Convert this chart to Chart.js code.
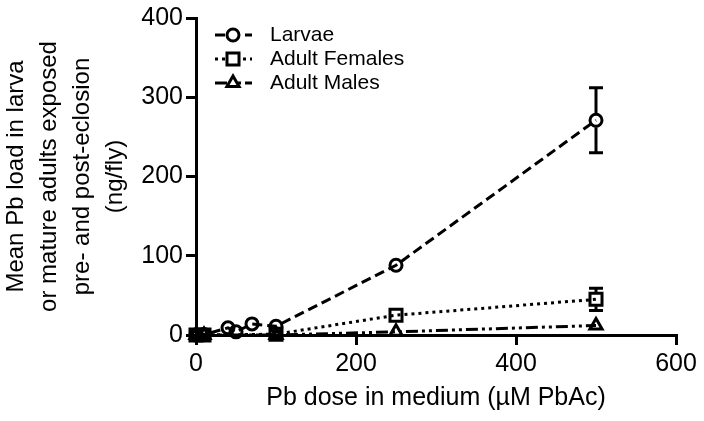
<!DOCTYPE html>
<html>
<head>
<meta charset="utf-8">
<script src="https://cdn.jsdelivr.net/npm/chart.js@4.4.1/dist/chart.umd.min.js"></script>
<style>
  html, body { margin: 0; padding: 0; background: #fff; }
  #wrap { width: 704px; height: 421px; }
</style>
</head>
<body>
<div id="wrap"><canvas id="grafica" width="704" height="421"></canvas></div>
<script>
// Datos
const dosisLarvas = [0, 10, 40, 50, 70, 100, 250, 500];
const cargaLarvas = [0, 0.5, 9, 4, 14, 11, 88, 271];
const errorLarvas = [0, 0, 1, 1, 2, 1.5, 5, 41];

const dosisAdultos = [0, 10, 100, 250, 500];
const cargaHembras = [0, 0, 1, 25, 45];
const errorHembras = [0, 0, 1, 3, 14];
const cargaMachos = [0, 0, 0, 4, 12];
const errorMachos = [0, 0, 0, 1, 2];

const etiquetasSeries = ["Larvae", "Adult Females", "Adult Males"];
const ticksX = [0, 200, 400, 600];
const ticksY = [0, 100, 200, 300, 400];

const tituloX = "Pb dose in medium (\u00b5M PbAc)";
const tituloY = ["Mean Pb load in larva", "or mature adults exposed", "pre- and post-eclosion", "(ng/fly)"];

const fuente = "'Liberation Sans', Arial, Helvetica, sans-serif";

const puntos = (xs, ys) => xs.map((x, i) => ({ x, y: ys[i] }));

const series = [
    { label: etiquetasSeries[0], data: puntos(dosisLarvas, cargaLarvas), err: errorLarvas, pointStyle: "circle", radio: 6, borderDash: [10, 5] },
    { label: etiquetasSeries[1], data: puntos(dosisAdultos, cargaHembras), err: errorHembras, pointStyle: "rect", radio: 8.5, borderDash: [3, 4] },
    { label: etiquetasSeries[2], data: puntos(dosisAdultos, cargaMachos), err: errorMachos, pointStyle: "triangle", radio: 7, borderDash: [12, 4, 3, 4, 3, 4] }
];

// Barras de error
const barrasError = {
    id: "barrasError",
    afterDatasetsDraw(chart) {
        const { ctx } = chart;
        const y = chart.scales.y;
        chart.data.datasets.forEach((ds, i) => {
            const meta = chart.getDatasetMeta(i);
            const r = ds.pointStyle === "rect" ? ds.pointRadius * 0.71 + 1 : ds.pointRadius + 1;
            ctx.save();
            ctx.strokeStyle = "#000";
            ctx.lineWidth = 3;
            meta.data.forEach((p, j) => {
                const e = ds.err[j];
                const v = ds.data[j].y;
                const arriba = y.getPixelForValue(v + e);
                const abajo = y.getPixelForValue(v - e);
                if (p.y - arriba <= r) return;
                ctx.beginPath();
                ctx.moveTo(p.x, arriba); ctx.lineTo(p.x, p.y - r);
                ctx.moveTo(p.x, p.y + r); ctx.lineTo(p.x, abajo);
                ctx.moveTo(p.x - 7, arriba); ctx.lineTo(p.x + 7, arriba);
                ctx.moveTo(p.x - 7, abajo); ctx.lineTo(p.x + 7, abajo);
                ctx.stroke();
            });
            ctx.restore();
        });
    }
};

// Leyenda con linea y marcador
const leyenda = {
    id: "leyenda",
    afterDraw(chart) {
        const { ctx } = chart;
        chart.data.datasets.forEach((ds, i) => {
            const fila = 35 + i * 24;
            ctx.save();
            ctx.strokeStyle = "#000";
            ctx.lineWidth = 3;
            ctx.setLineDash(ds.borderDash);
            ctx.beginPath();
            ctx.moveTo(215, fila);
            ctx.lineTo(252, fila);
            ctx.stroke();
            ctx.setLineDash([]);
            ctx.fillStyle = "#fff";
            Chart.helpers.drawPoint(ctx, { pointStyle: ds.pointStyle, radius: ds.pointRadius, borderWidth: 3, rotation: 0 }, 233, fila);
            ctx.fillStyle = "#000";
            ctx.font = "21px " + fuente;
            ctx.textBaseline = "middle";
            ctx.fillText(ds.label, 270, fila);
            ctx.restore();
        });
    }
};

const ctx = document.getElementById("grafica").getContext("2d");

new Chart(ctx, {
    type: "line",
    data: {
        datasets: series.map(s => ({
            label: s.label,
            data: s.data,
            err: s.err,
            borderColor: "#000",
            borderWidth: 3,
            borderDash: s.borderDash,
            pointStyle: s.pointStyle,
            pointRadius: s.radio,
            pointBorderWidth: 3,
            pointBorderColor: "#000",
            pointBackgroundColor: "rgba(255,255,255,0)",
            fill: false,
            tension: 0,
            clip: false
        }))
    },
    options: {
        responsive: false,
        animation: false,
        devicePixelRatio: 1,
        layout: { padding: { top: 17, right: 28, bottom: 0, left: 0 } },
        plugins: {
            legend: { display: false },
            tooltip: { enabled: false }
        },
        scales: {
            x: {
                type: "linear",
                min: 0,
                max: 600,
                afterBuildTicks: (s) => { s.ticks = ticksX.map(v => ({ value: v })); },
                afterFit: (s) => { s.height = 86; },
                grid: { display: true, drawOnChartArea: false, drawTicks: true, tickLength: 10, color: "#000", lineWidth: 3 },
                border: { display: true, color: "#000", width: 3 },
                ticks: { color: "#000", padding: 4, maxRotation: 0, font: { family: fuente, size: 25 } },
                title: { display: true, text: tituloX, color: "#000", padding: { top: 0, bottom: 8 }, font: { family: fuente, size: 25, lineHeight: 1.2 } }
            },
            y: {
                type: "linear",
                min: 0,
                max: 400,
                afterBuildTicks: (s) => { s.ticks = ticksY.map(v => ({ value: v })); },
                afterFit: (s) => { s.width = 196; },
                grid: { display: true, drawOnChartArea: false, drawTicks: true, tickLength: 10, color: "#000", lineWidth: 3 },
                border: { display: true, color: "#000", width: 3 },
                ticks: { color: "#000", padding: 3, font: { family: fuente, size: 25 } },
                title: { display: true, text: tituloY, color: "#000", padding: { top: 0, bottom: 0 }, font: { family: fuente, size: 24, lineHeight: 1.37 } }
            }
        }
    },
    plugins: [barrasError, leyenda]
});
</script>
</body>
</html>
